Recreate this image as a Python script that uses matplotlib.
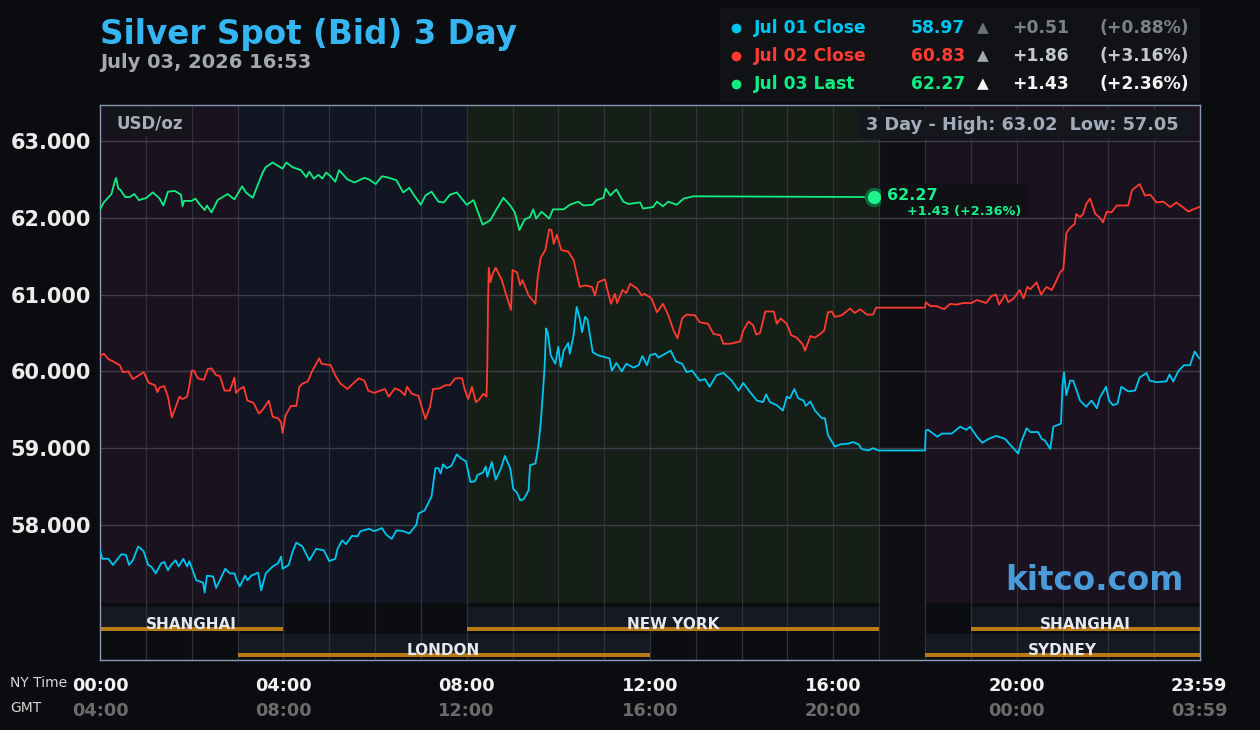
import matplotlib
matplotlib.use("Agg")
import matplotlib.pyplot as plt
import matplotlib.transforms as mtransforms
from matplotlib.patches import Rectangle
from matplotlib.lines import Line2D

# ---- data (minutes after 00:00 NY time, price in USD/oz) ----
jul03_min = [0, 5, 15, 19, 21, 24, 27, 33, 39, 45, 51, 61, 69, 75, 78, 83, 89, 98, 106, 108,
             110, 120, 125, 130, 137, 140, 146, 154, 167, 176, 186, 191, 200, 207, 213, 217,
             226, 239, 244, 252, 263, 270, 274, 280, 286, 291, 296, 302, 308, 313, 324, 333,
             346, 352, 361, 369, 375, 388, 397, 405, 410, 420, 426, 434, 443, 450, 458, 467,
             480, 489, 501, 511, 519, 528, 537, 543, 549, 556, 563, 567, 571, 578, 588, 593,
             607, 615, 626, 633, 645, 650, 659, 662, 668, 676, 685, 692, 707, 711, 724, 729,
             737, 744, 755, 764, 777, 1013]
jul03_val = [62.11, 62.20, 62.31, 62.46, 62.52, 62.38, 62.36, 62.27, 62.27, 62.31, 62.23, 62.26,
             62.33, 62.28, 62.25, 62.16, 62.34, 62.35, 62.30, 62.15, 62.22, 62.22, 62.25, 62.18,
             62.10, 62.16, 62.07, 62.23, 62.31, 62.24, 62.41, 62.33, 62.26, 62.44, 62.59, 62.66,
             62.72, 62.64, 62.72, 62.66, 62.62, 62.53, 62.60, 62.51, 62.56, 62.51, 62.59, 62.54,
             62.47, 62.62, 62.50, 62.46, 62.52, 62.50, 62.44, 62.54, 62.53, 62.49, 62.33, 62.39,
             62.31, 62.17, 62.29, 62.34, 62.21, 62.20, 62.30, 62.33, 62.17, 62.23, 61.91, 61.97,
             62.11, 62.26, 62.16, 62.07, 61.84, 61.98, 62.01, 62.11, 61.99, 62.08, 61.99, 62.11,
             62.11, 62.17, 62.21, 62.16, 62.17, 62.23, 62.26, 62.38, 62.29, 62.37, 62.21, 62.18,
             62.20, 62.12, 62.14, 62.21, 62.15, 62.21, 62.17, 62.25, 62.28, 62.27]

jul02_min = [0, 5, 11, 17, 26, 30, 37, 43, 48, 57, 64, 72, 75, 78, 84, 89, 94, 100, 104, 108,
             114, 117, 120, 123, 128, 136, 141, 146, 152, 157, 163, 170, 176, 178, 183, 188,
             193, 201, 208, 213, 221, 226, 233, 237, 239, 243, 250, 257, 261, 265, 272, 278,
             287, 290, 302, 309, 315, 324, 330, 339, 346, 351, 359, 367, 373, 378, 386, 393,
             399, 402, 408, 417, 422, 426, 432, 436, 445, 452, 458, 465, 474, 477, 482, 487,
             492, 497, 502, 506, 507, 508, 509, 511, 514, 518, 526, 532, 538, 540, 546, 550,
             553, 561, 570, 573, 577, 583, 588, 591, 594, 598, 604, 613, 620, 628, 635, 644,
             648, 652, 661, 665, 669, 674, 677, 684, 689, 694, 703, 709, 713, 722, 729, 737,
             744, 751, 756, 762, 768, 779, 785, 796, 803, 812, 816, 825, 838, 842, 849, 855,
             859, 864, 871, 882, 886, 891, 899, 905, 912, 920, 923, 930, 936, 943, 948, 953,
             958, 962, 971, 982, 988, 995, 1004, 1012, 1016, 1080, 1081, 1087, 1095, 1105,
             1113, 1121, 1130, 1141, 1148, 1160, 1167, 1173, 1177, 1185, 1189, 1196, 1204,
             1209, 1214, 1218, 1226, 1232, 1239, 1246, 1251, 1257, 1261, 1263, 1265, 1270,
             1276, 1278, 1283, 1287, 1291, 1296, 1303, 1308, 1313, 1318, 1324, 1331, 1346,
             1351, 1361, 1368, 1375, 1383, 1392, 1401, 1409, 1416, 1425, 1431, 1439]
jul02_val = [60.20, 60.23, 60.16, 60.13, 60.08, 59.99, 60.00, 59.90, 59.93, 59.99, 59.85, 59.82,
             59.73, 59.79, 59.81, 59.67, 59.40, 59.56, 59.67, 59.64, 59.67, 59.82, 60.01, 60.01,
             59.91, 59.89, 60.03, 60.04, 59.95, 59.94, 59.75, 59.75, 59.92, 59.72, 59.77, 59.80,
             59.62, 59.59, 59.45, 59.50, 59.62, 59.41, 59.39, 59.34, 59.20, 59.43, 59.55, 59.55,
             59.80, 59.84, 59.87, 60.01, 60.17, 60.10, 60.08, 59.93, 59.84, 59.77, 59.83, 59.91,
             59.88, 59.75, 59.72, 59.75, 59.77, 59.67, 59.78, 59.75, 59.69, 59.80, 59.71, 59.68,
             59.51, 59.38, 59.54, 59.77, 59.78, 59.82, 59.82, 59.91, 59.91, 59.78, 59.64, 59.80,
             59.60, 59.64, 59.71, 59.67, 60.08, 60.92, 61.35, 61.16, 61.27, 61.35, 61.19, 60.99,
             60.80, 61.32, 61.29, 61.12, 61.19, 60.99, 60.88, 61.23, 61.48, 61.58, 61.85, 61.84,
             61.66, 61.78, 61.58, 61.56, 61.45, 61.10, 61.12, 61.10, 60.99, 61.16, 61.20, 61.03,
             60.88, 61.01, 60.89, 61.06, 61.02, 61.14, 61.08, 60.99, 61.01, 60.95, 60.77, 60.88,
             60.73, 60.53, 60.43, 60.69, 60.74, 60.73, 60.64, 60.62, 60.49, 60.47, 60.36, 60.36,
             60.39, 60.53, 60.65, 60.60, 60.48, 60.50, 60.78, 60.78, 60.62, 60.69, 60.62, 60.47,
             60.44, 60.35, 60.27, 60.46, 60.44, 60.49, 60.53, 60.77, 60.78, 60.71, 60.73, 60.82,
             60.76, 60.81, 60.74, 60.74, 60.83, 60.83, 60.90, 60.85, 60.85, 60.81, 60.88, 60.87,
             60.89, 60.89, 60.93, 60.89, 60.98, 61.00, 60.87, 61.00, 60.90, 60.95, 61.06, 60.95,
             61.10, 61.07, 61.16, 61.00, 61.10, 61.06, 61.16, 61.29, 61.33, 61.55, 61.80, 61.87,
             61.92, 62.05, 62.01, 62.05, 62.18, 62.25, 62.05, 62.01, 61.94, 62.08, 62.07, 62.16,
             62.16, 62.36, 62.44, 62.29, 62.30, 62.20, 62.21, 62.14, 62.20, 62.15, 62.08, 62.11,
             62.14]

jul01_min = [0, 3, 11, 17, 28, 34, 38, 43, 50, 57, 63, 67, 73, 80, 84, 89, 93, 99, 103, 109,
             114, 117, 126, 135, 137, 140, 148, 152, 164, 170, 176, 179, 183, 190, 193, 198,
             207, 211, 217, 226, 233, 237, 239, 247, 252, 257, 265, 274, 283, 293, 300, 308,
             311, 317, 322, 330, 337, 341, 352, 359, 369, 375, 382, 388, 397, 405, 414, 417,
             425, 434, 439, 443, 446, 449, 454, 460, 467, 472, 479, 485, 491, 494, 501, 505,
             507, 513, 518, 525, 530, 537, 541, 546, 550, 555, 561, 563, 570, 574, 577, 580,
             582, 584, 586, 590, 596, 600, 603, 607, 613, 615, 620, 624, 628, 631, 635, 638,
             645, 652, 659, 667, 670, 676, 683, 689, 698, 705, 710, 716, 720, 727, 731, 740,
             747, 754, 762, 768, 775, 785, 792, 798, 807, 816, 827, 836, 842, 851, 860, 868,
             872, 877, 886, 894, 899, 903, 909, 914, 921, 924, 930, 936, 945, 949, 953, 962,
             969, 980, 986, 993, 997, 1006, 1012, 1019, 1080, 1081, 1084, 1096, 1102, 1115,
             1126, 1134, 1139, 1148, 1155, 1163, 1173, 1185, 1191, 1202, 1206, 1213, 1218,
             1228, 1233, 1237, 1244, 1248, 1258, 1260, 1262, 1265, 1270, 1274, 1283, 1291,
             1298, 1305, 1309, 1317, 1321, 1326, 1332, 1337, 1346, 1355, 1361, 1370, 1374,
             1383, 1396, 1400, 1405, 1412, 1419, 1427, 1433, 1439]
jul01_val = [57.67, 57.56, 57.56, 57.48, 57.62, 57.61, 57.48, 57.54, 57.72, 57.66, 57.48, 57.46,
             57.37, 57.50, 57.52, 57.41, 57.48, 57.54, 57.46, 57.56, 57.46, 57.53, 57.28, 57.25,
             57.12, 57.34, 57.33, 57.18, 57.43, 57.37, 57.37, 57.28, 57.20, 57.34, 57.28, 57.34,
             57.38, 57.15, 57.37, 57.46, 57.50, 57.59, 57.43, 57.48, 57.65, 57.77, 57.72, 57.54,
             57.69, 57.67, 57.53, 57.56, 57.69, 57.80, 57.75, 57.86, 57.85, 57.92, 57.95, 57.92,
             57.96, 57.87, 57.82, 57.93, 57.92, 57.89, 58.00, 58.15, 58.19, 58.37, 58.74, 58.74,
             58.67, 58.79, 58.74, 58.77, 58.92, 58.87, 58.83, 58.56, 58.57, 58.65, 58.68, 58.76,
             58.63, 58.82, 58.59, 58.74, 58.90, 58.74, 58.47, 58.42, 58.32, 58.34, 58.45, 58.78,
             58.80, 59.04, 59.34, 59.75, 60.06, 60.56, 60.51, 60.21, 60.10, 60.32, 60.06, 60.27,
             60.37, 60.23, 60.47, 60.84, 60.69, 60.51, 60.71, 60.68, 60.25, 60.21, 60.19, 60.17,
             60.01, 60.11, 60.00, 60.10, 60.05, 60.08, 60.20, 60.08, 60.21, 60.23, 60.18, 60.23,
             60.27, 60.13, 60.10, 59.99, 60.01, 59.88, 59.90, 59.80, 59.95, 59.98, 59.88, 59.75,
             59.85, 59.73, 59.62, 59.60, 59.70, 59.60, 59.56, 59.49, 59.67, 59.65, 59.77, 59.65,
             59.62, 59.55, 59.61, 59.49, 59.39, 59.39, 59.17, 59.02, 59.05, 59.06, 59.08, 59.05,
             58.99, 58.97, 59.00, 58.97, 58.97, 59.23, 59.24, 59.15, 59.19, 59.19, 59.28, 59.24,
             59.28, 59.15, 59.07, 59.12, 59.16, 59.12, 59.05, 58.93, 59.08, 59.26, 59.21, 59.21,
             59.12, 59.10, 58.99, 59.28, 59.32, 59.82, 59.99, 59.69, 59.88, 59.88, 59.62, 59.54,
             59.62, 59.52, 59.66, 59.80, 59.62, 59.56, 59.58, 59.80, 59.74, 59.75, 59.92, 59.98,
             59.88, 59.86, 59.87, 59.96, 59.87, 60.01, 60.08, 60.08, 60.26, 60.17]

y_ticks = [58, 59, 60, 61, 62, 63]
x_ticks = [0, 4, 8, 12, 16, 20, 23 + 59 / 60]
ny_labels = ["00:00", "04:00", "08:00", "12:00", "16:00", "20:00", "23:59"]
gmt_labels = ["04:00", "08:00", "12:00", "16:00", "20:00", "00:00", "03:59"]

# background zones (start hour, end hour, colour)
zones = [(0, 3, "#1a121e"), (3, 8, "#111622"), (8, 17, "#161e18"), (18, 24, "#1a121e")]
# trading sessions (name, start hour, end hour, row)
sessions = [("SHANGHAI", 0, 4, 0), ("NEW YORK", 8, 17, 0), ("SHANGHAI", 19, 24, 0),
            ("LONDON", 3, 12, 1), ("SYDNEY", 18, 24, 1)]

legend_rows = [
    ("Jul 01 Close", "58.97", "+0.51", "(+0.88%)", "#00c6f2", "#6c727c", "#7c8088"),
    ("Jul 02 Close", "60.83", "+1.86", "(+3.16%)", "#ff3a2f", "#a4a8b0", "#c4c7cc"),
    ("Jul 03 Last", "62.27", "+1.43", "(+2.36%)", "#10ee82", "#f4f4f4", "#f4f4f4"),
]

BG = "#0b0c10"
W, H = 1260, 730
plt.rcParams["font.family"] = ["DejaVu Sans"]


def fy(py):
    return 1 - py / H


def ay(py):
    # pixel row -> axes fraction (axes spans rows 105..660)
    return (660 - py) / 555


fig = plt.figure(figsize=(12.6, 7.3), dpi=100, facecolor=BG)
ax = fig.add_axes([100 / W, 1 - 660 / H, 1100 / W, 555 / H])
ax.set_facecolor(BG)
ax.set_xlim(0, 24)
ax.set_ylim(63 - 519 / 76.8, 63 + 36 / 76.8)
blend = mtransforms.blended_transform_factory(ax.transData, ax.transAxes)

# zones and session strip
top_data = ay(603)
for s, e, c in zones:
    ax.axvspan(s, e, ymin=top_data, ymax=1, color=c, lw=0, zorder=0)
ax.axvspan(0, 24, ymin=0, ymax=top_data, color="#0c0d11", lw=0, zorder=0)
ax.axvspan(17, 18, ymin=0, ymax=1, color="#0e0f12", lw=0, zorder=0.5)

for name, s, e, row in sessions:
    top, bot = (607, 631) if row == 0 else (634, 657)
    ax.add_patch(Rectangle((s, ay(bot)), e - s, ay(top) - ay(bot), transform=blend,
                           color="#141922", lw=0, zorder=0.6))
    ax.add_patch(Rectangle((s, ay(bot)), e - s, ay(bot - 4) - ay(bot), transform=blend,
                           color="#b97a16", lw=0, zorder=1.5))
    ax.text((s + e) / 2, ay(bot - 2), name, transform=blend, ha="center", va="baseline",
            fontsize=11, fontweight="bold", color="#e6e8ee", zorder=2)

# grid
for h in range(1, 24):
    ax.axvline(h, color="#30323a", lw=0.9, zorder=1)
ax.hlines(y_ticks, 0, 24, color="#3c3e48", lw=1, zorder=1)

# series
ax.plot([m / 60 for m in jul01_min], jul01_val, color="#00c6f2", lw=1.3, zorder=3)
ax.plot([m / 60 for m in jul02_min], jul02_val, color="#ff3a2f", lw=1.3, zorder=3)
ax.plot([m / 60 for m in jul03_min], jul03_val, color="#10ee82", lw=1.3, zorder=3.2)

last_t = jul03_min[-1] / 60
last_v = jul03_val[-1]
ax.plot(last_t, last_v, "o", ms=13, color="#0c6a3c", zorder=4)
ax.plot(last_t, last_v, "o", ms=8.5, color="#1ff58f", zorder=4.1)

for sp in ax.spines.values():
    sp.set_color("#8a98b5")
    sp.set_linewidth(1)
ax.set_yticks(y_ticks)
ax.set_yticklabels([f"{v:.3f}" for v in y_ticks])
ax.tick_params(axis="y", length=0, pad=6.5, labelsize=15, labelcolor="#ececec")
for lab in ax.get_yticklabels():
    lab.set_fontweight("bold")
ax.set_xticks([])

# x labels (NY and GMT rows)
xblend = mtransforms.blended_transform_factory(ax.transData, fig.transFigure)
for t, ny, gmt in zip(x_ticks, ny_labels, gmt_labels):
    fig.text(t, fy(686), ny, transform=xblend, ha="center", va="center", fontsize=12.8,
             fontweight="bold", color="#f2f2f2")
    fig.text(t, fy(711), gmt, transform=xblend, ha="center", va="center", fontsize=12.8,
             fontweight="bold", color="#6b6b6b")
fig.text(10 / W, fy(683), "NY Time", ha="left", va="center", fontsize=10, color="#d6d6d6")
fig.text(10 / W, fy(708), "GMT", ha="left", va="center", fontsize=10, color="#d6d6d6")


def px_box(x, y, w, h, color, z=5):
    fig.add_artist(Rectangle((x / W, fy(y + h)), w / W, h / H, transform=fig.transFigure,
                             color=color, lw=0, zorder=z))


# in-plot labels
px_box(108, 108, 82, 28, "#15161c")
fig.text(116 / W, fy(123), "USD/oz", ha="left", va="center", fontsize=12, fontweight="bold",
         color="#a8adb8", zorder=6)
px_box(859, 109, 333, 30, "#15171c")
fig.text(866 / W, fy(125), "3 Day - High: 63.02  Low: 57.05", ha="left", va="center",
         fontsize=12.8, fontweight="bold", color="#a2abba", zorder=6)
px_box(881, 184, 147, 33, "#101114")
fig.text(887 / W, fy(195), "62.27", ha="left", va="center", fontsize=11.5, fontweight="bold",
         color="#19f08a", zorder=6)
fig.text(907 / W, fy(211), "+1.43 (+2.36%)", ha="left", va="center", fontsize=9.3,
         fontweight="bold", color="#19f08a", zorder=6)
fig.text(1184 / W, fy(590), "kitco.com", ha="right", va="baseline", fontsize=23.5,
         fontweight="bold", color="#4a9bd9", zorder=6)

# title
fig.text(100 / W, fy(44), "Silver Spot (Bid) 3 Day", ha="left", va="baseline", fontsize=23.5,
         fontweight="bold", color="#35b6f2")
fig.text(100 / W, fy(68), "July 03, 2026 16:53", ha="left", va="baseline", fontsize=14,
         fontweight="bold", color="#a4a7ad")

# legend panel
px_box(720, 8, 480, 94, "#111216", z=1)
for i, (name, val, chg, pct, col, tri_col, chg_col) in enumerate(legend_rows):
    y = fy(28 + 28 * i)
    fig.add_artist(Line2D([736 / W], [y], marker="o", ms=6, color=col, lw=0,
                          transform=fig.transFigure, zorder=2))
    fig.text(754 / W, y, name, ha="left", va="center", fontsize=12.3, fontweight="bold",
             color=col, zorder=2)
    fig.text(965 / W, y, val, ha="right", va="center", fontsize=12.3, fontweight="bold",
             color=col, zorder=2)
    fig.text(983 / W, y, "▲", ha="center", va="center", fontsize=11, color=tri_col, zorder=2)
    fig.text(1069 / W, y, chg, ha="right", va="center", fontsize=12.3, fontweight="bold",
             color=chg_col, zorder=2)
    fig.text(1189 / W, y, pct, ha="right", va="center", fontsize=12.3, fontweight="bold",
             color=chg_col, zorder=2)

fig.savefig("out.png", dpi=100, facecolor=BG)
plt.close(fig)
